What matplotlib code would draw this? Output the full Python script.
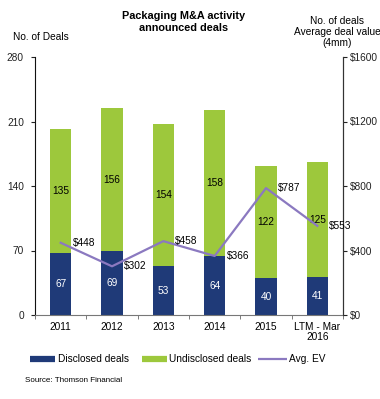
import matplotlib
matplotlib.use("Agg")
import matplotlib.pyplot as plt
from matplotlib.lines import Line2D
import numpy as np

categories = ["2011", "2012", "2013", "2014", "2015", "LTM - Mar\n2016"]
disclosed = [67, 69, 53, 64, 40, 41]
undisclosed = [135, 156, 154, 158, 122, 125]
avg_ev = [448, 302, 458, 366, 787, 553]
left_ticks = [0, 70, 140, 210, 280]
right_ticks = [0, 400, 800, 1200, 1600]

plt.rcParams['font.family'] = ['Liberation Sans', 'DejaVu Sans']

navy = "#1F3A78"
green = "#9DC83C"
purple = "#8B79C0"
fs = 7.3

W, H = 380, 399
fig = plt.figure(figsize=(3.8, 3.99), dpi=100)
ax = fig.add_axes([35/W, 1-315/H, 308/W, 258/H])
x = np.arange(len(categories))
w = 0.42
ax.bar(x, disclosed, w, color=navy, zorder=2)
ax.bar(x, undisclosed, w, bottom=disclosed, color=green, zorder=2)
for i in range(len(x)):
    ax.text(x[i], disclosed[i]/2, str(disclosed[i]), color="white", ha="center", va="center", fontsize=fs, zorder=5)
    ax.text(x[i], disclosed[i] + undisclosed[i]/2, str(undisclosed[i]), color="black", ha="center", va="center", fontsize=fs, zorder=5)

ax.set_xlim(-0.5, len(x) - 0.5)
ax.set_ylim(0, 280)
ax.set_yticks(left_ticks)
ax.tick_params(axis='y', labelsize=fs, direction='out', length=3, pad=5, colors="#222222")
ax.set_xticks(x)
ax.set_xticklabels(categories, fontsize=fs, linespacing=1.05)
ax.tick_params(axis='x', length=0, pad=5)
ax.set_xticks(np.arange(-0.5, len(x), 1), minor=True)
ax.tick_params(axis='x', which='minor', length=3, direction='out', color="#666666")
ax.spines['top'].set_visible(False)
ax.spines['left'].set_color("#111111")
ax.spines['right'].set_color("#333333")
ax.spines['bottom'].set_color("#777777")

ax2 = ax.twinx()
ax2.plot(x, avg_ev, color=purple, lw=1.6, zorder=4)
ax2.set_ylim(0, 1600)
ax2.set_yticks(right_ticks)
ax2.set_yticklabels(["$" + str(t) for t in right_ticks])
ax2.tick_params(axis='y', labelsize=fs, direction='out', length=3, pad=2, colors="#222222")
ax2.spines['top'].set_visible(False)
ax2.spines['left'].set_visible(False)
ax2.spines['bottom'].set_visible(False)
ax2.spines['right'].set_color("#333333")
for i in range(len(x)):
    ax2.annotate("$" + str(avg_ev[i]), (x[i], avg_ev[i]), xytext=(8.5, 0), textcoords="offset points",
                 fontsize=fs, ha="left", va="center", zorder=6)

fig.text(184/W, 1-22/H, "Packaging M&A activity\nannounced deals", ha="center", va="center",
         fontsize=7.8, fontweight="bold", linespacing=1.2)
fig.text(41/W, 1-37/H, "No. of Deals", ha="center", va="center", fontsize=fs)
fig.text(337/W, 1-32/H, "No. of deals\nAverage deal value\n(4mm)", ha="center", va="center", fontsize=fs, linespacing=1.15)

# legend
leg_y = 1 - 359/H
items = [(30, 55, navy, 4.5, 58, "Disclosed deals"),
         (142, 167, green, 4.5, 169, "Undisclosed deals"),
         (258, 287, purple, 1.6, 289, "Avg. EV")]
for x0, x1, c, lw, tx, lab in items:
    fig.add_artist(Line2D([x0/W, x1/W], [leg_y, leg_y], color=c, lw=lw, transform=fig.transFigure, solid_capstyle='butt'))
    fig.text(tx/W, leg_y, lab, fontsize=fs, ha="left", va="center")
fig.text(25/W, 1-380/H, "Source: Thomson Financial", fontsize=5.8, ha="left", va="center")

fig.savefig("out.png", dpi=100)
